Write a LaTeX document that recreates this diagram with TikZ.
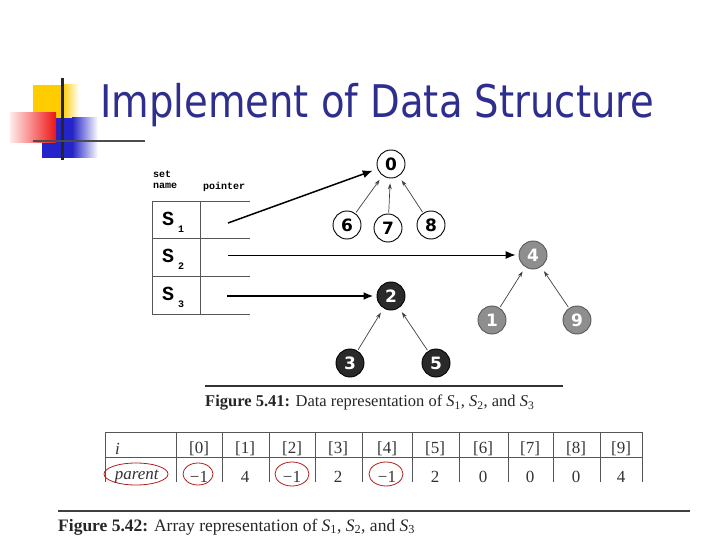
\documentclass[tikz,border=0pt]{standalone}
\usepackage{fontspec}
\setmainfont{Liberation Serif}
\newfontfamily\titlefont{DejaVu Sans}
\newfontfamily\monofont{Liberation Mono}
\newfontfamily\numfont{DejaVu Sans}
\usetikzlibrary{arrows.meta}
\definecolor{titleblue}{HTML}{2E2E8E}
\definecolor{logoyellow}{HTML}{FFCC00}
\definecolor{logoblue}{HTML}{2424C8}
\definecolor{logored}{HTML}{EE1515}
\definecolor{midgray}{HTML}{8E8E8E}
\definecolor{darknode}{HTML}{2A2A2A}
\definecolor{tabline}{HTML}{555555}
\definecolor{tabtext}{HTML}{333333}
\definecolor{circred}{HTML}{B01E1E}
\tikzset{
  tnode/.style={circle, minimum size=28pt, inner sep=0pt, line width=0.9pt,
    font=\numfont\fontsize{17}{17}\selectfont\bfseries},
  whitenode/.style={tnode, draw=black, fill=white, text=black},
  graynode/.style={tnode, draw=gray!70!black, fill=midgray, text=white},
  darknodest/.style={tnode, draw=black, fill=darknode, text=white},
  ptr/.style={-{Latex[length=10pt,width=8pt]}, line width=1.4pt, black},
  tarr/.style={-{Stealth[length=6pt,width=4pt]}, line width=0.7pt, black!75, shorten >=5pt, shorten <=1pt},
  tline/.style={line width=0.9pt, tabline},
  ttext/.style={font=\fontsize{17}{17}\selectfont, text=tabtext, inner sep=0pt},
  redell/.style={draw=circred, line width=0.8pt},
  monosmall/.style={font=\monofont\fontsize{10}{10}\selectfont\bfseries, inner sep=0pt},
  slabel/.style={font=\monofont\fontsize{20}{20}\selectfont\bfseries, inner sep=0pt},
  caption/.style={inner sep=0pt, anchor=west, text=black!85}
}
\begin{document}
\begin{tikzpicture}[x=1pt,y=-1pt]
\useasboundingbox (0,0) rectangle (720,540);
% ---------- logo ----------
\fill[logoyellow] (33,85) rectangle (62,118);
\shade[left color=logoyellow, right color=white] (62,85) rectangle (79,118);
\fill[logoblue] (42,118) rectangle (72,158);
\shade[left color=logoblue, right color=white] (72,118) rectangle (98,158);
\shade[left color=red!8, right color=logored] (10,113) rectangle (56,143);
\draw[line width=3pt, black!85] (62,78) -- (62,160);
\draw[line width=2.5pt, black!70] (33,141) -- (145,141);
% ---------- title ----------
\node[anchor=base west, inner sep=0pt, text=titleblue] (title) at (100,118)
  {\scalebox{0.857}[1]{\titlefont\fontsize{45}{45}\selectfont Implement of Data Structure}};
% ---------- set-name table ----------
\node[monosmall, anchor=west] (setw) at (153,174) {set};
\node[monosmall, anchor=west] (namew) at (153,186) {name};
\node[monosmall, anchor=west] (ptrw) at (203,187) {pointer};
\foreach \yy in {201,238,276,314} \draw[tline] (152,\yy) -- (250,\yy);
\draw[tline] (152,201) -- (152,314);
\draw[tline] (200,201) -- (200,314);
\node[slabel] (s1) at (173,222) {S\hspace{4pt}\raisebox{-7pt}{\fontsize{10}{10}\selectfont 1}};
\node[slabel] (s2) at (173,259) {S\hspace{4pt}\raisebox{-7pt}{\fontsize{10}{10}\selectfont 2}};
\node[slabel] (s3) at (173,297) {S\hspace{4pt}\raisebox{-7pt}{\fontsize{10}{10}\selectfont 3}};
\coordinate (p1) at (228,223);
\coordinate (p2) at (228,255);
\coordinate (p3) at (227,296);
% ---------- trees ----------
\node[whitenode] (n0) at (391,164) {0};
\node[whitenode] (n6) at (347,225) {6};
\node[whitenode] (n7) at (388,228) {7};
\node[whitenode] (n8) at (431,225) {8};
\node[graynode] (n4) at (533,255) {4};
\node[graynode] (n1) at (492,320) {1};
\node[graynode] (n9) at (577,320) {9};
\node[darknodest] (n2) at (391,296) {2};
\node[darknodest] (n3) at (350,363) {3};
\node[darknodest] (n5) at (436,363) {5};
\draw[tarr] (n6) -- (n0);
\draw[tarr] (n7) -- (n0);
\draw[tarr] (n8) -- (n0);
\draw[tarr] (n1) -- (n4);
\draw[tarr] (n9) -- (n4);
\draw[tarr] (n3) -- (n2);
\draw[tarr] (n5) -- (n2);
\draw[ptr, line width=1.5pt, shorten >=5pt] (p1) -- (n0.200);
\draw[ptr, line width=1pt, shorten >=3pt] (p2) -- (n4);
\draw[ptr, line width=2pt, shorten >=3pt] (p3) -- (n2);
% ---------- caption 5.41 ----------
\draw[line width=1.4pt, black!80] (205,386) -- (563,386);
\node[caption, font=\fontsize{16.5}{16.5}\selectfont] (cap1) at (205,403) {{\bfseries Figure 5.41:} Data representation of \textit{S}\textsubscript{1}, \textit{S}\textsubscript{2}, and \textit{S}\textsubscript{3}};
% ---------- array table ----------
\draw[tline] (105,432) -- (642,432);
\draw[tline] (105,457) -- (642,457);
\foreach \xx in {105,176,222,269,315,362,412,459,508,553,600,642}
  \draw[tline] (\xx,432) -- (\xx,482);
\node[ttext, anchor=west] (hi) at (115,449) {\textit{i}};
\node[ttext] (hp) at (137,477) {\textit{parent}};
\foreach \k/\cx/\val in {0/199/−1,1/245/4,2/292/−1,3/338/2,4/387/−1,5/435/2,6/483/0,7/530/0,8/576/0,9/621/4}{
  \node[ttext] (h\k) at (\cx,449) {[\k]};
  \node[ttext] (v\k) at (\cx,477) {\val};
}
\draw[redell] (136,474) ellipse [x radius=32, y radius=11];
\draw[redell] (198,474) ellipse [x radius=15, y radius=11];
\draw[redell] (292,474) ellipse [x radius=17, y radius=12];
\draw[redell] (386,474) ellipse [x radius=17, y radius=12];
% ---------- caption 5.42 ----------
\draw[line width=1.4pt, black!75] (58,511) -- (690,511);
\node[caption, font=\fontsize{17.5}{17.5}\selectfont] (cap2) at (58,527) {{\bfseries Figure 5.42:} Array representation of \textit{S}\textsubscript{1}, \textit{S}\textsubscript{2}, and \textit{S}\textsubscript{3}};
\end{tikzpicture}
\end{document}
